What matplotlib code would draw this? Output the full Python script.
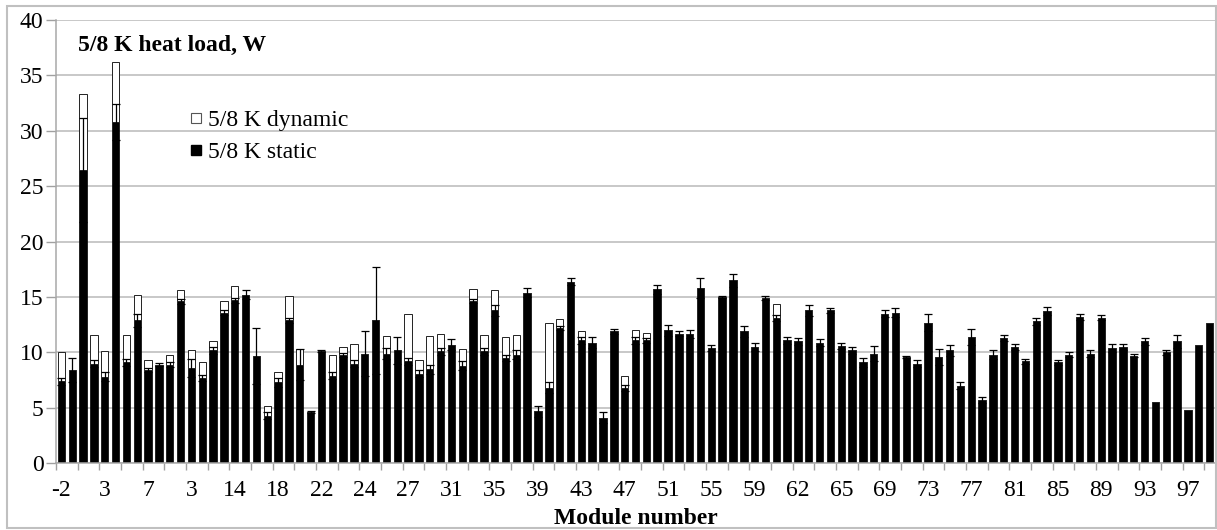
import matplotlib
matplotlib.use("Agg")
import matplotlib.pyplot as plt
from matplotlib.patches import Rectangle
from matplotlib.lines import Line2D
import numpy as np

# ---------------- data ----------------
static = [7.4, 8.4, 26.5, 9.0, 7.8, 30.8, 9.1, 12.9, 8.4, 8.9,
          8.9, 14.6, 8.6, 7.7, 10.2, 13.6, 14.7, 15.2, 9.7, 4.3,
          7.3, 12.9, 8.9, 4.6, 10.1, 7.9, 9.75, 9.0, 9.9, 12.9,
          9.9, 10.2, 9.2, 8.1, 8.5, 10.1, 10.7, 8.8, 14.65, 10.1,
          13.8, 9.5, 9.8, 15.4, 4.7, 6.8, 12.2, 16.4, 11.1, 10.9,
          4.1, 11.9, 6.8, 11.1, 11.1, 15.7, 12.0, 11.7, 11.65, 15.8,
          10.4, 15.0, 16.5, 11.9, 10.5, 14.9, 13.1, 11.1, 11.0, 13.8,
          10.9, 13.8, 10.6, 10.2, 9.1, 9.9, 13.5, 13.6, 9.6, 9.0,
          12.7, 9.6, 10.2, 7.0, 11.4, 5.7, 9.8, 11.3, 10.5, 9.2,
          12.8, 13.75, 9.1, 9.8, 13.2, 9.9, 13.15, 10.4, 10.5, 9.7,
          11.0, 5.5, 10.0, 11.0, 4.8, 10.7, 12.7]

dynamic = [2.6, 0, 6.8, 2.6, 2.3, 5.4, 2.5, 2.3, 0.9, 0,
           0.9, 1.0, 1.6, 1.4, 0.8, 1.0, 1.3, 0, 0, 0.9,
           0.9, 2.2, 1.4, 0, 0, 1.9, 0.7, 1.8, 0, 0,
           1.6, 0, 4.3, 1.2, 3.0, 1.6, 0, 1.5, 1.1, 1.5,
           1.8, 1.9, 1.8, 0, 0, 5.9, 0.8, 0, 0.8, 0,
           0, 0, 1.1, 0.9, 0.7, 0, 0, 0, 0, 0,
           0, 0, 0, 0, 0, 0, 1.3, 0, 0, 0,
           0, 0, 0, 0, 0, 0, 0, 0, 0, 0,
           0, 0, 0, 0, 0, 0, 0, 0, 0, 0,
           0, 0, 0, 0, 0, 0, 0, 0, 0, 0,
           0, 0, 0, 0, 0, 0, 0]

static_err = [0.3, 1.1, 4.7, 0.3, 0.4, 1.6, 0.3, 0.6, 0.2, 0.15,
              0.2, 0.2, 0.8, 0.3, 0.3, 0.2, 0.25, 0.4, 2.5, 0.3,
              0.4, 0.2, 1.4, 0.1, 0.1, 0.3, 0.2, 0.3, 2.0, 4.8,
              0.5, 1.2, 0.3, 0.3, 0.4, 0.3, 0.5, 0.4, 0.2, 0.3,
              0.5, 0.3, 0.4, 0.4, 0.5, 0.5, 0.2, 0.3, 0.3, 0.5,
              0.5, 0.2, 0.3, 0.3, 0.2, 0.4, 0.5, 0.2, 0.35, 0.9,
              0.3, 0.1, 0.6, 0.5, 0.4, 0.2, 0.3, 0.3, 0.3, 0.5,
              0.3, 0.2, 0.3, 0.3, 0.4, 0.7, 0.3, 0.4, 0.1, 0.3,
              0.8, 0.7, 0.5, 0.3, 0.7, 0.3, 0.4, 0.3, 0.3, 0.2,
              0.3, 0.35, 0.2, 0.2, 0.3, 0.3, 0.25, 0.4, 0.3, 0.15,
              0.3, 0.0, 0.2, 0.6, 0.0, 0.0, 0.0]

tick_labels = ['-2', '3', '7', '3', '14', '18', '22', '24', '27', '31', '35',
               '39', '43', '47', '51', '55', '59', '62', '65', '69', '73',
               '77', '81', '85', '89', '93', '97']

series_names = ['5/8 K dynamic', '5/8 K static']
title_text = '5/8 K heat load, W'
xlabel_text = 'Module number'

# ---------------- figure ----------------
W, H = 1217, 530
fig = plt.figure(figsize=(W / 100, H / 100), dpi=100)
serif = ['Liberation Serif', 'DejaVu Serif']
plt.rcParams['font.family'] = serif

left, right, top, bottom = 56, 1215, 20, 463.3
ax = fig.add_axes([left / W, 1 - bottom / H, (right - left) / W, (bottom - top) / H])

x = np.arange(len(static))
st = np.array(static)
dy = np.array(dynamic)
se = np.array(static_err)

ax.bar(x, st, width=0.68, color='black', edgecolor='black', linewidth=0.5, zorder=2)
ax.bar(x, dy, bottom=st, width=0.68, color='white', edgecolor='#222222',
       linewidth=0.7, zorder=2)
mask = se > 0
ax.errorbar(x[mask], st[mask], yerr=se[mask], fmt='none', ecolor='black',
            elinewidth=0.9, capsize=2.6, capthick=0.9, zorder=3)

ax.set_xlim(-0.5, len(static) - 0.5)
ax.set_ylim(0, 40)
ax.set_yticks(np.arange(0, 41, 5))
ax.grid(axis='y', color='#c4c4c4', linewidth=1.3, zorder=0)
ax.set_axisbelow(True)

ax.set_xticks(np.arange(0, len(static), 4))
ax.set_xticklabels(tick_labels)
ax.set_xticks(np.arange(-0.5, len(static), 2), minor=True)
ax.tick_params(axis='x', which='major', length=0, pad=12, labelsize=17)
ax.tick_params(axis='x', which='minor', length=5, width=1, color='#a0a0a0', direction='out')
ax.tick_params(axis='y', length=7, width=1, color='#a0a0a0', pad=2, labelsize=17)

for s in ['top', 'right']:
    ax.spines[s].set_visible(False)
for s in ['left', 'bottom']:
    ax.spines[s].set_color('#a8a8a8')
    ax.spines[s].set_linewidth(1.1)

ax.set_xlabel(xlabel_text, fontsize=17, fontweight='bold', labelpad=0)
ax.xaxis.set_label_coords(0.5, -0.1)

fig.text(78 / W, 1 - 45 / H, title_text, fontsize=17, fontweight='bold',
         va='center', ha='left')

handles = [Line2D([], [], linestyle='none', marker='s', markersize=6.5,
                  markerfacecolor='white', markeredgecolor='#555555', markeredgewidth=0.8),
           Line2D([], [], linestyle='none', marker='s', markersize=6.5,
                  markerfacecolor='black', markeredgecolor='black')]
leg = fig.legend(handles, series_names, loc='upper left',
                 bbox_to_anchor=(169 / W, 1 - 88 / H), frameon=False,
                 handlelength=0.5, handletextpad=0.25,
                 labelspacing=0.45, prop={'family': serif, 'size': 17})

fig.patches.append(Rectangle((7 / W, 2 / H), 1209 / W, 522 / H, transform=fig.transFigure,
                             fill=False, edgecolor='#c0c0c0', linewidth=1.5))

fig.savefig('out.png', dpi=100)
